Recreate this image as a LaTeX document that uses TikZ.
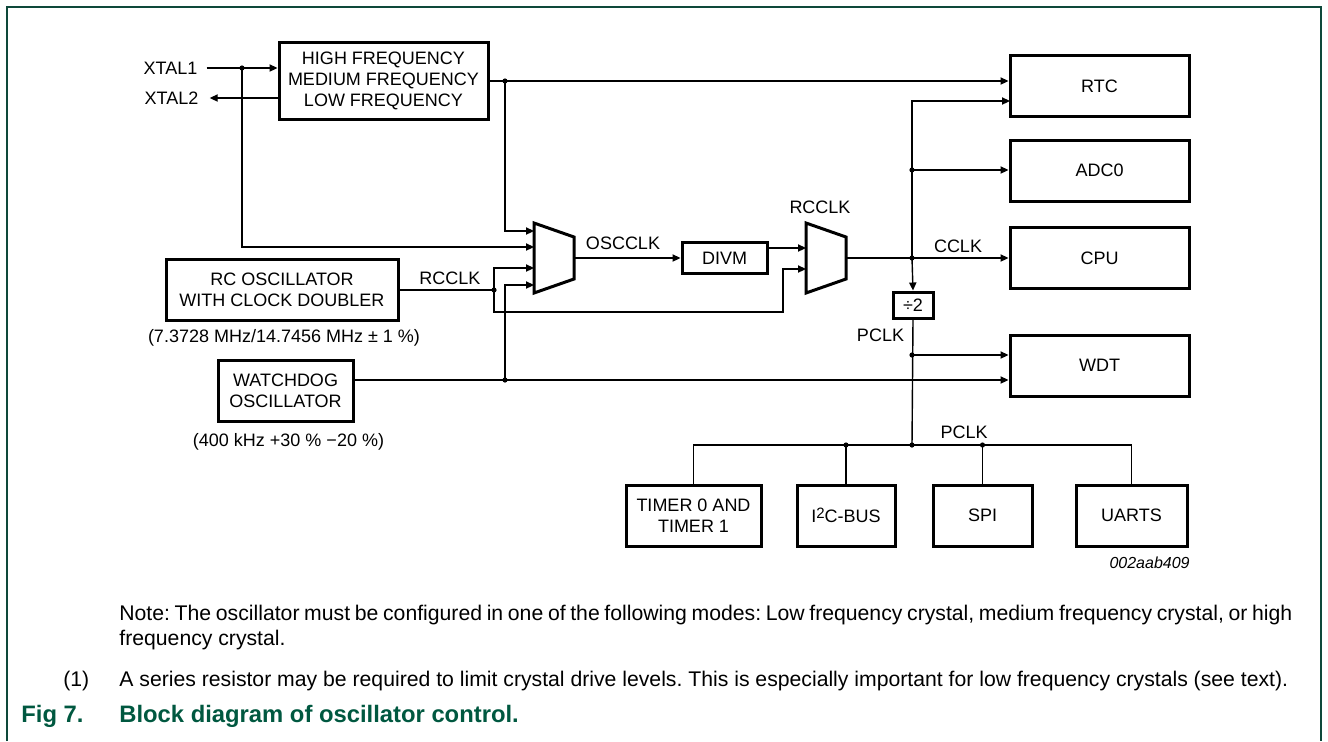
\documentclass[tikz,border=0pt]{standalone}
\usepackage{fontspec}
\setmainfont{Liberation Sans}
\usetikzlibrary{positioning, arrows.meta, calc}
\definecolor{capgreen}{RGB}{0,88,64}
\definecolor{framegreen}{RGB}{14,72,58}
\frenchspacing

\begin{document}
\begin{tikzpicture}[x=0.5pt, y=-0.5pt,
    font=\fontsize{9}{10.5}\selectfont,
    blk/.style={draw, line width=1.5pt, align=center, inner sep=0pt},
    lbl/.style={inner sep=0pt},
    wire/.style={line width=0.7pt},
    arr/.style={wire, -{Triangle[length=4pt, width=3.6pt]}},
    dot/.style={circle, fill, inner sep=0pt, minimum size=2.6pt},
    mux/.style={line width=1.5pt, line join=miter},
    txt/.style={inner sep=0pt, anchor=base west, font=\fontsize{10.6}{12.5}\selectfont}]

\useasboundingbox (0,0) rectangle (1328,741);
\draw[framegreen, line width=1pt] (7,741) -- (7,7) -- (1321,7) -- (1321,741);

% Nodes
\node[blk, minimum width=104.5pt, minimum height=38.5pt] (hf) at (383.5,81) {HIGH FREQUENCY\\MEDIUM FREQUENCY\\LOW FREQUENCY};
\node[blk, minimum width=116pt, minimum height=30.5pt] (rc) at (282,290) {RC OSCILLATOR\\WITH CLOCK DOUBLER};
\node[blk, minimum width=67.5pt, minimum height=30.5pt] (wd) at (285.5,390.5) {WATCHDOG\\OSCILLATOR};
\node[blk, minimum width=42.5pt, minimum height=15.5pt] (divm) at (724.5,258) {DIVM};
\node[blk, minimum width=20pt, minimum height=13pt] (div2) at (913,305) {÷2};
\foreach \n/\y/\t in {rtc/86/RTC, adc/170.5/ADC0, cpu/258/CPU, wdt/365.5/WDT}
  \node[blk, minimum width=89.5pt, minimum height=30.5pt] (\n) at (1099.5,\y) {\t};
\foreach \n/\x/\w/\t in {timer/693.5/67.5/{TIMER 0 AND\\TIMER 1}, i2c/846/49/{I\raisebox{0.35ex}{\fontsize{7.5}{8}\selectfont 2}C-BUS},
    spi/982.5/49.5/SPI, uarts/1131.5/55.5/UARTS}
  \node[blk, minimum width=\w pt, minimum height=30.5pt] (\n) at (\x,515.5) {\t};

% multiplexers
\foreach \m/\x in {m1/534, m2/806} {
  \draw[mux] (\x,223) -- ++(40,14) -- ++(0,42) -- ++(-40,14) -- cycle;
  \coordinate (\m out) at (\x+40,258);
}
\coordinate (m1in1) at (534,231);
\coordinate (m1in2) at (534,247);
\coordinate (m1in3) at (534,268);
\coordinate (m1in4) at (534,285);
\coordinate (m2in1) at (806,248);
\coordinate (m2in2) at (806,269);
\coordinate (rcbend) at (783,312);
\coordinate (rtcin2) at (1010,101);

% labels
\node[lbl] (xtalA) at (170.5,68) {XTAL1};
\node[lbl] (xtalB) at (171.5,98) {XTAL2};
\node[lbl] (rcclkA) at (450,278) {RCCLK};
\node[lbl] (oscclk) at (623,243) {OSCCLK};
\node[lbl] (rcclkB) at (820,207) {RCCLK};
\node[lbl] (cclk) at (958,246) {CCLK};
\node[lbl] (pclkA) at (880.5,335) {PCLK};
\node[lbl] (pclkB) at (964,432) {PCLK};
\node[lbl] (rcnote) at (284,338) {(7.3728 MHz/14.7456 MHz ± 1 \%)};
\node[lbl] (wdnote) at (288.5,442) {(400 kHz +30 \% −20 \%)};
\node[lbl, anchor=east, font=\fontsize{8}{9.6}\selectfont\itshape] (code) at (1190,563) {002aab409};

% junctions
\foreach \n/\p in {j1/{242,68}, j2/{505,81}, j3/{494,290}, j4/{505,380}, j5/{912,258},
    j6/{912,170}, j7/{912,355}, j8/{912,445}, j9/{846,445}, j10/{982.5,445}}
  \node[dot] (\n) at (\p) {};

% Arrows
\draw[arr] ([xshift=4.5pt]xtalA.east) -- (xtalA -| hf.west);
\draw[arr] (hf.west |- xtalB) -- ([xshift=5.5pt]xtalB.east);
\draw[arr] (j1.center) |- (m1in2);
\draw[arr] (hf.east) -- (hf.east -| rtc.west);
\draw[arr] (j2.center) |- (m1in1);
\draw[wire] (rc.east) -- (j3.center);
\draw[arr] (j3.center) |- (m1in3);
\draw[arr] (j3.center) |- (rcbend) |- (m2in2);
\draw[arr] (wd.east |- j4) -- (j4 -| wdt.west);
\draw[arr] (j4.center) |- (m1in4);
\draw[arr] (m1out) -- (divm.west);
\draw[arr] (divm.east |- m2in1) -- (m2in1);
\draw[arr] (m2out) -- (cpu.west);
\draw[arr] (j5.center) -- (div2.north);
\draw[arr] (j5.center) |- (rtcin2);
\draw[arr] (j6.center) -- (j6 -| adc.west);
\draw[wire] (div2.south) -- (j8.center);
\draw[arr] (j7.center) -- (j7 -| wdt.west);
\draw[wire] (timer.north) |- (j8.center) -| (uarts.north);
\draw[wire] (i2c.north) -- (j9.center);
\draw[wire] (spi.north) -- (j10.center);

% notes and caption
\node[txt] (note1) at (119,620) {\makebox[586.5pt][s]{Note: The oscillator must be configured in one of the following modes: Low frequency crystal, medium frequency crystal, or high}};
\node[txt] (note2) at (119,645) {frequency crystal.};
\node[txt] (fnA) at (63,686) {(1)};
\node[txt] (fnB) at (119,686) {A series resistor may be required to limit crystal drive levels. This is especially important for low frequency crystals (see text).};
\node[txt, text=capgreen, font=\fontsize{11.9}{13}\selectfont\bfseries] (figA) at (21,722) {Fig 7.};
\node[txt, text=capgreen, font=\fontsize{11.9}{13}\selectfont\bfseries] (figB) at (119,722) {Block diagram of oscillator control.};
\end{tikzpicture}
\end{document}
